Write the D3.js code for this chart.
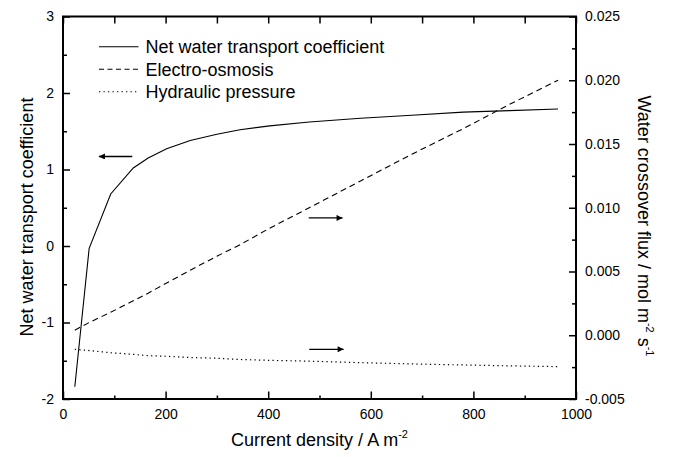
<!DOCTYPE html>
<html>
<head>
<meta charset="utf-8">
<script src="https://cdn.jsdelivr.net/npm/d3@7"></script>
<style>
  html, body { margin: 0; padding: 0; background: #fff; }
  svg { display: block; font-family: "Liberation Sans", Arial, sans-serif; }
</style>
</head>
<body>
<svg id="chart" width="674" height="457"></svg>
<script>
// ---- data ----
const currentDensity = [23, 51, 93, 137, 166, 202, 248, 300, 345, 403, 480, 580, 680, 780, 870, 965];
const netCoefficient = [-1.84, -0.03, 0.68, 1.02, 1.15, 1.27, 1.38, 1.46, 1.52, 1.57, 1.62, 1.67, 1.71, 1.75, 1.77, 1.79];
const electroOsmosis = [0.0004, 0.0010, 0.0018, 0.0027, 0.0033, 0.0041, 0.0051, 0.0062, 0.0071, 0.0084, 0.0100, 0.0121, 0.0142, 0.0162, 0.0181, 0.0200];
const hydraulicPressure = [-0.0011, -0.0012, -0.00137, -0.0015, -0.0016, -0.00165, -0.00175, -0.0018, -0.0019, -0.00197, -0.00203, -0.00215, -0.00225, -0.00233, -0.0024, -0.00246];

const xTicks = [0, 200, 400, 600, 800, 1000];
const xMinorTicks = [100, 300, 500, 700, 900];
const yLeftTicks = [-2, -1, 0, 1, 2, 3];
const yLeftMinorTicks = [-1.5, -0.5, 0.5, 1.5, 2.5];
const yRightTicks = [-0.005, 0, 0.005, 0.01, 0.015, 0.02, 0.025];
const yRightMinorTicks = [-0.0025, 0.0025, 0.0075, 0.0125, 0.0175, 0.0225];

const legendLabels = ["Net water transport coefficient", "Electro-osmosis", "Hydraulic pressure"];
// arrows: [x0, x1, y, axis]  (data units; head at x1)
const arrows = [
  [135, 70, 1.17, "left"],
  [479, 545, 0.0092, "right"],
  [480, 547, -0.0011, "right"]
];

// ---- layout ----
const L = 63, R = 576, T = 16.5, B = 399;
const svg = d3.select("#chart");

const x = d3.scaleLinear().domain([0, 1000]).range([L, R]);
const yL = d3.scaleLinear().domain([-2, 3]).range([B, T]);
const yR = d3.scaleLinear().domain([-0.005, 0.025]).range([B, T]);

const hy = s => s.replace("\u2212", "-");
const fmtL = d => hy(d3.format("d")(d));
const fmtR = d => hy(d3.format(".3f")(d));

svg.append("defs").append("marker")
  .attr("id", "head").attr("viewBox", "0 0 10 10")
  .attr("refX", 10).attr("refY", 5)
  .attr("markerWidth", 8).attr("markerHeight", 6)
  .attr("markerUnits", "userSpaceOnUse")
  .attr("orient", "auto")
  .append("path").attr("d", "M0,0 L10,5 L0,10 Z").attr("fill", "#000");

function styleAxis(g) {
  g.select(".domain").remove();
  g.selectAll(".tick line").attr("stroke", "#000").attr("stroke-width", 1.5);
  g.selectAll("text").attr("font-size", 14).attr("fill", "#000")
    .attr("font-family", "'Liberation Sans', Arial, sans-serif");
}

// bottom axis
svg.append("g").attr("transform", `translate(0,${B})`)
  .call(d3.axisBottom(x).tickValues(xTicks).tickSize(-7.5).tickPadding(10).tickFormat(fmtL))
  .call(styleAxis);
svg.append("g").attr("transform", `translate(0,${B})`)
  .call(d3.axisBottom(x).tickValues(xMinorTicks).tickSize(-3.5).tickFormat(""))
  .call(styleAxis);
// top axis
svg.append("g").attr("transform", `translate(0,${T})`)
  .call(d3.axisTop(x).tickValues(xTicks.concat(xMinorTicks)).tickSize(-7).tickFormat(""))
  .call(styleAxis);
// left axis
svg.append("g").attr("transform", `translate(${L},0)`)
  .call(d3.axisLeft(yL).tickValues(yLeftTicks).tickSize(-7).tickPadding(9).tickFormat(fmtL))
  .call(styleAxis);
svg.append("g").attr("transform", `translate(${L},0)`)
  .call(d3.axisLeft(yL).tickValues(yLeftMinorTicks).tickSize(-4).tickFormat(""))
  .call(styleAxis);
// right axis
svg.append("g").attr("transform", `translate(${R},0)`)
  .call(d3.axisRight(yR).tickValues(yRightTicks).tickSize(-7).tickPadding(9).tickFormat(fmtR))
  .call(styleAxis);
svg.append("g").attr("transform", `translate(${R},0)`)
  .call(d3.axisRight(yR).tickValues(yRightMinorTicks).tickSize(-4).tickFormat(""))
  .call(styleAxis);

// frame
svg.append("rect").attr("x", L).attr("y", T).attr("width", R - L).attr("height", B - T)
  .attr("fill", "none").attr("stroke", "#000").attr("stroke-width", 2);

// series
const idx = d3.range(currentDensity.length);
const lineL = d3.line().x(i => x(currentDensity[i])).y(i => yL(netCoefficient[i]));
const lineEO = d3.line().x(i => x(currentDensity[i])).y(i => yR(electroOsmosis[i]));
const lineHP = d3.line().x(i => x(currentDensity[i])).y(i => yR(hydraulicPressure[i]));

svg.append("path").attr("d", lineL(idx)).attr("fill", "none").attr("stroke", "#000").attr("stroke-width", 1.1);
svg.append("path").attr("d", lineEO(idx)).attr("fill", "none").attr("stroke", "#000").attr("stroke-width", 1.1)
  .attr("stroke-dasharray", "6,4");
svg.append("path").attr("d", lineHP(idx)).attr("fill", "none").attr("stroke", "#000").attr("stroke-width", 1.2)
  .attr("stroke-dasharray", "1.3,3.2");

// arrows
arrows.forEach(([x0, x1, yv, ax]) => {
  const ys = ax === "left" ? yL : yR;
  svg.append("line")
    .attr("x1", x(x0)).attr("x2", x(x1)).attr("y1", ys(yv)).attr("y2", ys(yv))
    .attr("stroke", "#000").attr("stroke-width", 1.3)
    .attr("marker-end", "url(#head)");
});

// legend
const dashes = [null, "5,3.5", "1.3,3.2"];
legendLabels.forEach((lab, i) => {
  const ly = 46.7 + i * 22.5;
  svg.append("line").attr("x1", 99).attr("x2", 138.5).attr("y1", ly).attr("y2", ly)
    .attr("stroke", "#000").attr("stroke-width", 1.1)
    .attr("stroke-dasharray", dashes[i]);
  svg.append("text").attr("x", 145.5).attr("y", ly + 6.6)
    .attr("font-size", 18).attr("fill", "#000").text(lab);
});

// axis titles
const xt = svg.append("text").attr("x", (L + R) / 2).attr("y", 446)
  .attr("text-anchor", "middle").attr("font-size", 18).attr("fill", "#000");
xt.append("tspan").text("Current density / A m");
xt.append("tspan").attr("dy", -8).attr("font-size", 11).text("-2");

svg.append("text").attr("transform", `translate(33,217) rotate(-90)`)
  .attr("text-anchor", "middle").attr("font-size", 18).attr("fill", "#000")
  .text("Net water transport coefficient");

const rt = svg.append("text").attr("transform", `translate(638,226) rotate(90)`)
  .attr("text-anchor", "middle").attr("font-size", 18).attr("fill", "#000");
rt.append("tspan").text("Water crossover flux / mol m");
rt.append("tspan").attr("dy", -8).attr("font-size", 11).text("-2");
rt.append("tspan").attr("dy", 8).text(" s");
rt.append("tspan").attr("dy", -8).attr("font-size", 11).text("-1");
</script>
</body>
</html>
